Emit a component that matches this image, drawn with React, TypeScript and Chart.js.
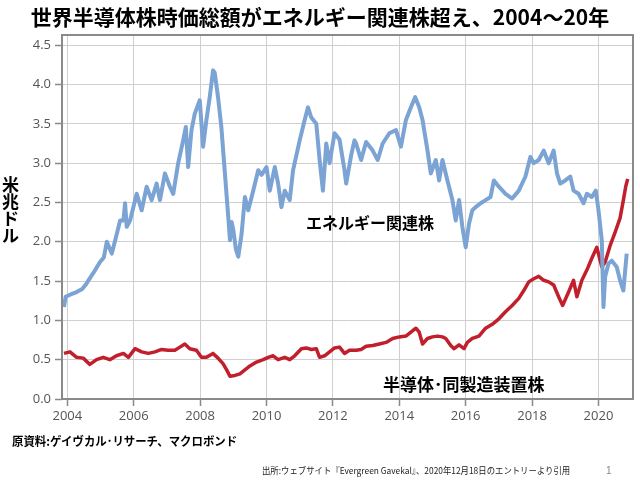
import React, { useEffect, useRef } from "react";
import { Chart, registerables } from "chart.js";

Chart.register(...registerables);

const TITLE = "世界半導体株時価総額がエネルギー関連株超え、2004～20年";
const Y_LABEL = ["米", "兆", "ド", "ル"];
const ENERGY_LABEL = "エネルギー関連株";
const SEMI_LABEL = "半導体･同製造装置株";
const SOURCE = "原資料:ゲイヴカル･リサーチ、マクロボンド";
const CREDIT = "出所:ウェブサイト『Evergreen Gavekal』、2020年12月18日のエントリーより引用";

const xTicks = [2004, 2006, 2008, 2010, 2012, 2014, 2016, 2018, 2020];
const yTicks = [0, 0.5, 1, 1.5, 2, 2.5, 3, 3.5, 4, 4.5];

const energyYears = [
  2003.9, 2003.95, 2004.1, 2004.28, 2004.45, 2004.58, 2004.78, 2004.98, 2005.1, 2005.19,
  2005.34, 2005.49, 2005.59, 2005.69, 2005.74, 2005.79, 2005.89, 2006.09, 2006.24, 2006.39,
  2006.54, 2006.69, 2006.79, 2006.94, 2007.09, 2007.19, 2007.34, 2007.49, 2007.57, 2007.64,
  2007.74, 2007.84, 2007.99, 2008.09, 2008.19, 2008.29, 2008.39, 2008.44, 2008.54, 2008.64,
  2008.74, 2008.84, 2008.9, 2008.95, 2009.0, 2009.08, 2009.15, 2009.25, 2009.35, 2009.45,
  2009.6, 2009.75, 2009.85, 2010.0, 2010.1, 2010.25, 2010.35, 2010.45, 2010.55, 2010.7,
  2010.8, 2011.0, 2011.15, 2011.25, 2011.35, 2011.5, 2011.6, 2011.7, 2011.8, 2011.9,
  2012.05, 2012.2, 2012.35, 2012.4, 2012.55, 2012.65, 2012.7, 2012.85, 2013.0, 2013.2,
  2013.35, 2013.5, 2013.7, 2013.9, 2014.05, 2014.2, 2014.35, 2014.48, 2014.6, 2014.7,
  2014.85, 2014.95, 2015.1, 2015.2, 2015.3, 2015.45, 2015.6, 2015.7, 2015.8, 2015.9,
  2016.0, 2016.1, 2016.2, 2016.3, 2016.45, 2016.6, 2016.75, 2016.85, 2017.0, 2017.2,
  2017.4, 2017.6, 2017.8, 2017.95, 2018.05, 2018.2, 2018.35, 2018.5, 2018.65, 2018.75,
  2018.85, 2019.0, 2019.15, 2019.25, 2019.4, 2019.55, 2019.65, 2019.8, 2019.92, 2020.0,
  2020.1, 2020.15, 2020.2, 2020.3, 2020.4, 2020.55, 2020.65, 2020.75, 2020.85,
];
const energyValues = [
  1.17, 1.3, 1.33, 1.36, 1.4, 1.47, 1.6, 1.74, 1.8, 2.0,
  1.85, 2.1, 2.27, 2.27, 2.49, 2.19, 2.27, 2.61, 2.4, 2.7,
  2.53, 2.74, 2.53, 2.87, 2.7, 2.61, 3.0, 3.29, 3.46, 2.95,
  3.42, 3.63, 3.8, 3.21, 3.55, 3.84, 4.18, 4.15, 3.84, 3.46,
  2.91, 2.36, 2.02, 2.25, 2.15, 1.9, 1.81, 2.1, 2.57, 2.4,
  2.65, 2.91, 2.85, 2.95, 2.65, 2.95, 2.74, 2.44, 2.65, 2.53,
  2.91, 3.29, 3.55, 3.71, 3.58, 3.5, 3.04, 2.65, 3.25, 3.0,
  3.38, 3.3, 2.91, 2.74, 3.1, 3.29, 3.25, 3.04, 3.27, 3.16,
  3.04, 3.25, 3.38, 3.42, 3.21, 3.55, 3.71, 3.84, 3.71, 3.55,
  3.16, 2.87, 3.04, 2.78, 3.04, 2.78, 2.53, 2.27, 2.53, 2.19,
  1.93, 2.23, 2.4, 2.44, 2.49, 2.53, 2.57, 2.78, 2.7, 2.61,
  2.55, 2.65, 2.83, 3.08, 3.0, 3.04, 3.16, 3.0, 3.16, 2.87,
  2.74, 2.78, 2.83, 2.65, 2.61, 2.49, 2.61, 2.57, 2.65, 2.4,
  2.02, 1.17, 1.55, 1.72, 1.76, 1.68, 1.51, 1.38, 1.85,
];

const semiYears = [
  2003.9, 2004.08, 2004.28, 2004.48, 2004.68, 2004.88, 2005.08, 2005.28, 2005.48, 2005.69,
  2005.84, 2006.04, 2006.24, 2006.44, 2006.64, 2006.84, 2007.04, 2007.24, 2007.39, 2007.54,
  2007.69, 2007.89, 2008.04, 2008.19, 2008.39, 2008.54, 2008.69, 2008.8, 2008.9, 2009.05,
  2009.2, 2009.35, 2009.5, 2009.7, 2009.9, 2010.05, 2010.2, 2010.35, 2010.55, 2010.7,
  2010.85, 2011.05, 2011.2, 2011.35, 2011.5, 2011.6, 2011.75, 2011.9, 2012.05, 2012.2,
  2012.35, 2012.5, 2012.7, 2012.85, 2013.0, 2013.2, 2013.4, 2013.6, 2013.8, 2014.0,
  2014.2, 2014.35, 2014.5, 2014.6, 2014.7, 2014.85, 2015.0, 2015.15, 2015.3, 2015.4,
  2015.55, 2015.65, 2015.8, 2015.95, 2016.05, 2016.2, 2016.4, 2016.6, 2016.8, 2017.0,
  2017.2, 2017.4, 2017.6, 2017.75, 2017.9, 2018.05, 2018.2, 2018.35, 2018.5, 2018.65,
  2018.8, 2018.92, 2019.1, 2019.25, 2019.35, 2019.5, 2019.65, 2019.8, 2019.95, 2020.1,
  2020.2, 2020.35, 2020.5, 2020.65, 2020.75, 2020.82, 2020.88,
];
const semiValues = [
  0.58, 0.6, 0.53, 0.52, 0.44, 0.5, 0.53, 0.5, 0.55, 0.58,
  0.53, 0.64, 0.6, 0.58, 0.6, 0.63, 0.62, 0.62, 0.66, 0.7,
  0.64, 0.62, 0.53, 0.53, 0.58, 0.52, 0.45, 0.37, 0.29, 0.3,
  0.32, 0.37, 0.42, 0.47, 0.5, 0.53, 0.55, 0.5, 0.53, 0.5,
  0.55, 0.64, 0.65, 0.63, 0.64, 0.53, 0.55, 0.6, 0.65, 0.66,
  0.58, 0.62, 0.62, 0.63, 0.67, 0.68, 0.7, 0.72, 0.77, 0.79,
  0.8, 0.85, 0.9, 0.85, 0.7, 0.77, 0.79, 0.8, 0.79, 0.77,
  0.68, 0.64, 0.69, 0.64, 0.72, 0.77, 0.8, 0.9, 0.95, 1.02,
  1.11, 1.19, 1.28, 1.38, 1.49, 1.53, 1.56, 1.51, 1.49, 1.45,
  1.3, 1.19, 1.36, 1.51, 1.3, 1.51, 1.64, 1.79, 1.93, 1.68,
  1.74, 1.95, 2.12, 2.3, 2.53, 2.7, 2.8,
];

const JP = '"Noto Sans CJK JP", "Noto Sans", sans-serif';

export default function App() {
  const ref = useRef<HTMLCanvasElement | null>(null);

  useEffect(() => {
    if (!ref.current) return;
    const boxPlugin = {
      id: "box",
      afterDraw(chart: any) {
        const { ctx, chartArea: a } = chart;
        ctx.save();
        ctx.strokeStyle = "#8a8a8a";
        ctx.lineWidth = 2;
        ctx.strokeRect(a.left, a.top, a.right - a.left, a.bottom - a.top);
        ctx.restore();
      },
    };
    const chart = new Chart(ref.current, {
      type: "line",
      data: {
        datasets: [
          {
            label: ENERGY_LABEL,
            data: energyYears.map((x, i) => ({ x, y: energyValues[i] })),
            borderColor: "#7ba3d4",
            borderWidth: 4,
            pointRadius: 0,
            tension: 0,
            borderJoinStyle: "round",
          },
          {
            label: SEMI_LABEL,
            data: semiYears.map((x, i) => ({ x, y: semiValues[i] })),
            borderColor: "#c21f2c",
            borderWidth: 3.5,
            pointRadius: 0,
            tension: 0,
            borderJoinStyle: "round",
          },
        ],
      },
      options: {
        responsive: false,
        animation: false,
        devicePixelRatio: 1,
        layout: { padding: { top: 35, right: 7, left: 0, bottom: 0 } },
        plugins: { legend: { display: false }, tooltip: { enabled: false }, title: { display: false } },
        scales: {
          x: {
            type: "linear",
            min: 2003.84,
            max: 2021.04,
            afterBuildTicks: (s: any) => {
              s.ticks = xTicks.map((v) => ({ value: v }));
            },
            afterFit: (s: any) => {
              s.height = 81;
            },
            border: { display: false },
            grid: {
              color: "#cfcfcf",
              lineWidth: 1,
              borderDash: [3, 3],
              tickLength: 7,
              tickColor: "#8a8a8a",
              tickWidth: 1.5,
              tickBorderDash: [],
            },
            ticks: {
              autoSkip: false,
              maxRotation: 0,
              padding: 2,
              color: "#555",
              font: { family: '"Open Sans", sans-serif', size: 13 },
              callback: (v: any) => String(v),
            },
          },
          y: {
            type: "linear",
            min: 0,
            max: 4.63,
            afterBuildTicks: (s: any) => {
              s.ticks = yTicks.map((v) => ({ value: v }));
            },
            afterFit: (s: any) => {
              s.width = 62;
            },
            border: { display: false },
            grid: {
              color: "#cfcfcf",
              lineWidth: 1,
              borderDash: [3, 3],
              tickLength: 7,
              tickColor: "#8a8a8a",
              tickWidth: 1.5,
              tickBorderDash: [],
            },
            ticks: {
              padding: 4,
              color: "#555",
              font: { family: '"Open Sans", sans-serif', size: 13 },
              callback: (v: any) => Number(v).toFixed(1),
            },
          },
        },
      },
      plugins: [boxPlugin],
    } as any);
    return () => chart.destroy();
  }, []);

  const abs = (s: React.CSSProperties): React.CSSProperties => ({
    position: "absolute",
    whiteSpace: "nowrap",
    lineHeight: 1,
    fontFamily: JP,
    ...s,
  });

  return (
    <div style={{ position: "fixed", left: 0, top: 0, width: 640, height: 480, background: "#fff", overflow: "hidden" }}>
      <canvas ref={ref} width={640} height={480} style={{ display: "block", width: 640, height: 480 }} />
      <div style={abs({ left: 0, width: 640, top: 6, textAlign: "center", fontSize: 21, fontWeight: 700, color: "#000" })}>{TITLE}</div>
      <div style={abs({ left: 2, width: 17, top: 175, textAlign: "center", fontSize: 17, lineHeight: "17px", fontWeight: 700, color: "#000" })}>
        {Y_LABEL.map((c, i) => (
          <div key={i}>{c}</div>
        ))}
      </div>
      <div style={abs({ left: 306, top: 214, fontSize: 16, fontWeight: 700, color: "#000" })}>{ENERGY_LABEL}</div>
      <div style={abs({ left: 383, top: 375, width: 157, fontSize: 17, fontWeight: 700, color: "#000", textAlign: "justify", textAlignLast: "justify" } as any)}>{SEMI_LABEL}</div>
      <div style={abs({ left: 12, top: 435, fontSize: 12, fontWeight: 700, color: "#000", transform: "scaleX(0.95)", transformOrigin: "0 0" })}>{SOURCE}</div>
      <div style={abs({ left: 262, top: 466, fontSize: 9, color: "#222", transform: "scaleX(0.93)", transformOrigin: "0 0" })}>{CREDIT}</div>
      <div style={abs({ left: 606, top: 466, fontSize: 10, color: "#888", fontFamily: '"Liberation Sans", sans-serif' })}>1</div>
    </div>
  );
}
